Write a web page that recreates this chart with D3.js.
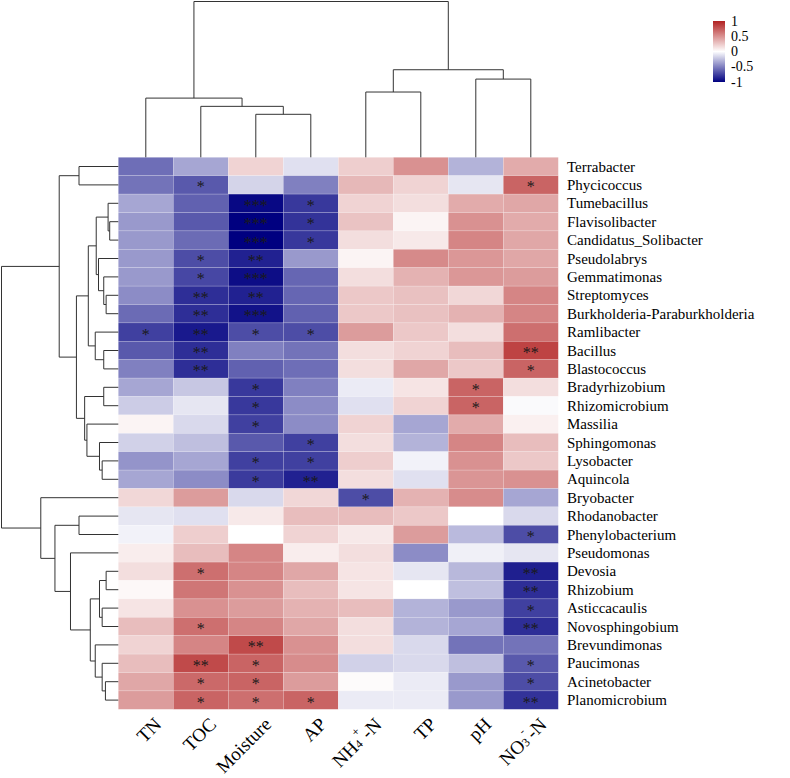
<!DOCTYPE html>
<html>
<head>
<meta charset="utf-8">
<script src="https://cdn.jsdelivr.net/npm/d3@7.9.0/dist/d3.min.js"></script>
<style>
  body { margin: 0; background: #fff; }
  svg text { font-family: "Liberation Serif", "Times New Roman", serif; fill: #000; }
</style>
</head>
<body>
<div id="chart"></div>
<script>
const genera = ["Terrabacter", "Phycicoccus", "Tumebacillus", "Flavisolibacter", "Candidatus_Solibacter",
  "Pseudolabrys", "Gemmatimonas", "Streptomyces", "Burkholderia-Paraburkholderia", "Ramlibacter",
  "Bacillus", "Blastococcus", "Bradyrhizobium", "Rhizomicrobium", "Massilia", "Sphingomonas",
  "Lysobacter", "Aquincola", "Bryobacter", "Rhodanobacter", "Phenylobacterium", "Pseudomonas",
  "Devosia", "Rhizobium", "Asticcacaulis", "Novosphingobium", "Brevundimonas", "Paucimonas",
  "Acinetobacter", "Planomicrobium"];

const factors = ["TN", "TOC", "Moisture", "AP", "NH4+-N", "TP", "pH", "NO3--N"];

// correlation, one row per genus, columns in factor order
const corr = [
  [-0.57, -0.35, 0.20, -0.12, 0.22, 0.50, -0.30, 0.38],
  [-0.55, -0.65, -0.17, -0.50, 0.32, 0.20, -0.10, 0.70],
  [-0.35, -0.62, -0.97, -0.78, 0.20, 0.15, 0.38, 0.40],
  [-0.40, -0.65, -1.00, -0.80, 0.27, 0.05, 0.50, 0.38],
  [-0.40, -0.58, -1.00, -0.78, 0.15, 0.10, 0.55, 0.40],
  [-0.40, -0.70, -0.87, -0.40, 0.05, 0.53, 0.47, 0.40],
  [-0.40, -0.72, -0.95, -0.60, 0.15, 0.35, 0.47, 0.45],
  [-0.45, -0.82, -0.87, -0.60, 0.25, 0.28, 0.18, 0.55],
  [-0.58, -0.82, -0.93, -0.62, 0.25, 0.28, 0.35, 0.55],
  [-0.75, -0.90, -0.70, -0.70, 0.45, 0.25, 0.15, 0.65],
  [-0.65, -0.82, -0.50, -0.55, 0.15, 0.20, 0.30, 0.85],
  [-0.50, -0.82, -0.62, -0.57, 0.15, 0.40, 0.25, 0.70],
  [-0.35, -0.22, -0.78, -0.50, -0.08, 0.12, 0.70, 0.15],
  [-0.20, -0.10, -0.78, -0.45, -0.12, 0.20, 0.70, -0.02],
  [0.05, -0.15, -0.75, -0.45, 0.20, -0.35, 0.38, 0.07],
  [-0.18, -0.25, -0.65, -0.75, 0.15, -0.30, 0.55, 0.30],
  [-0.42, -0.35, -0.75, -0.75, 0.22, -0.05, 0.50, 0.25],
  [-0.35, -0.45, -0.77, -0.87, 0.15, -0.12, 0.48, 0.50],
  [0.18, 0.45, -0.15, 0.18, -0.70, 0.35, 0.52, -0.35],
  [-0.10, -0.12, 0.10, 0.30, 0.30, 0.25, 0.00, -0.15],
  [-0.05, 0.22, 0.00, 0.20, 0.10, 0.45, -0.27, -0.70],
  [0.08, 0.30, 0.55, 0.08, 0.15, -0.45, -0.06, -0.10],
  [0.15, 0.65, 0.55, 0.40, 0.12, -0.10, -0.28, -0.88],
  [0.03, 0.62, 0.50, 0.30, 0.12, 0.00, -0.25, -0.82],
  [0.12, 0.50, 0.45, 0.35, 0.30, -0.30, -0.40, -0.75],
  [0.30, 0.65, 0.55, 0.40, 0.15, -0.30, -0.35, -0.82],
  [0.20, 0.55, 0.82, 0.50, 0.15, -0.15, -0.55, -0.55],
  [0.30, 0.82, 0.70, 0.52, -0.18, -0.15, -0.25, -0.65],
  [0.40, 0.68, 0.70, 0.45, 0.02, -0.08, -0.40, -0.70],
  [0.45, 0.70, 0.65, 0.70, -0.08, -0.08, -0.40, -0.80]
];

const stars = [
  ["", "", "", "", "", "", "", ""],
  ["", "*", "", "", "", "", "", "*"],
  ["", "", "***", "*", "", "", "", ""],
  ["", "", "***", "*", "", "", "", ""],
  ["", "", "***", "*", "", "", "", ""],
  ["", "*", "**", "", "", "", "", ""],
  ["", "*", "***", "", "", "", "", ""],
  ["", "**", "**", "", "", "", "", ""],
  ["", "**", "***", "", "", "", "", ""],
  ["*", "**", "*", "*", "", "", "", ""],
  ["", "**", "", "", "", "", "", "**"],
  ["", "**", "", "", "", "", "", "*"],
  ["", "", "*", "", "", "", "*", ""],
  ["", "", "*", "", "", "", "*", ""],
  ["", "", "*", "", "", "", "", ""],
  ["", "", "", "*", "", "", "", ""],
  ["", "", "*", "*", "", "", "", ""],
  ["", "", "*", "**", "", "", "", ""],
  ["", "", "", "", "*", "", "", ""],
  ["", "", "", "", "", "", "", ""],
  ["", "", "", "", "", "", "", "*"],
  ["", "", "", "", "", "", "", ""],
  ["", "*", "", "", "", "", "", "**"],
  ["", "", "", "", "", "", "", "**"],
  ["", "", "", "", "", "", "", "*"],
  ["", "*", "", "", "", "", "", "**"],
  ["", "", "**", "", "", "", "", ""],
  ["", "**", "*", "", "", "", "", "*"],
  ["", "*", "*", "", "", "", "", "*"],
  ["", "*", "*", "*", "", "", "", "**"]
];

// dendrograms as [height, left, right], leaves are indices
const colTree = [1.0, [0.38, 0, [0.327, 1, [0.276, 2, 3]]], [0.562, [0.419, 4, 5], [0.502, 6, 7]]];
const rowTree = [118,
  [59.7,
    [39.7, 0, 1],
    [42.3,
      [30.3,
        [22.3, [10.3, 2, [8.7, 3, 4]], [20, 5, [14.7, 6, [12.3, 7, 8]]]],
        [23.3, 9, [14.7, 10, 11]]],
      [34, [14.7, 12, 13], [31.7, 14, [19, 15, [16.3, 16, 17]]]]]],
  [78.3, 18,
    [64, [39.7, 19, 20],
      [48.3, 21,
        [28.3, [19, [12.3, 22, 23], [16.3, 24, 25]], [23.3, 26, [16.3, 27, [13, 28, 29]]]]]]]];

const legendTicks = [1, 0.5, 0, -0.5, -1];

const width = 790, height = 778;
const svg = d3.select('#chart').append('svg')
  .attr('width', width).attr('height', height)
  .attr('font-family', '"Liberation Serif", "Times New Roman", serif');

const x = d3.scaleBand().domain(d3.range(factors.length)).range([118.3, 558.3]);
const y = d3.scaleBand().domain(d3.range(genera.length)).range([157.3, 709.3]);
const color = d3.scaleLinear().domain([-1, 0, 1]).range(['#000080', '#ffffff', '#b22222']);

// cells
const cells = [];
corr.forEach((row, i) => row.forEach((v, j) => cells.push({ i, j, v, s: stars[i][j] })));

svg.append('g').selectAll('rect').data(cells).join('rect')
  .attr('x', d => x(d.j)).attr('y', d => y(d.i))
  .attr('width', x.bandwidth()).attr('height', y.bandwidth())
  .attr('fill', d => color(d.v))
  .attr('stroke', 'rgba(255,255,255,0.35)').attr('stroke-width', 0.5);

svg.append('g').selectAll('text').data(cells.filter(d => d.s)).join('text')
  .attr('x', d => x(d.j) + x.bandwidth() / 2)
  .attr('y', d => y(d.i) + y.bandwidth() / 2 + 7.5)
  .attr('text-anchor', 'middle')
  .style('font-size', '16px').style('fill', '#1a1a1a')
  .text(d => d.s);

// dendrograms
function toHier(tree) {
  return d3.hierarchy(tree, d => (typeof d === 'number' ? null : [d[1], d[2]]));
}
function layout(root, leafPos) {
  root.eachAfter(n => {
    if (!n.children) { n.pos = leafPos(n.data); n.h = 0; }
    else { n.pos = d3.mean(n.children, c => c.pos); n.h = n.data[0]; }
  });
  return root;
}

const colRoot = layout(toHier(colTree), k => x(k) + x.bandwidth() / 2);
const colH = d3.scaleLinear().domain([0, 1]).range([157.3, 1.5]);
svg.append('g').selectAll('path').data(colRoot.descendants().filter(n => n.children)).join('path')
  .attr('fill', 'none').attr('stroke', '#333').attr('stroke-width', 1)
  .attr('d', n => {
    const [a, b] = n.children;
    return `M${a.pos},${colH(a.h)}V${colH(n.h)}H${b.pos}V${colH(b.h)}`;
  });

const rowRoot = layout(toHier(rowTree), k => y(k) + y.bandwidth() / 2);
const rowH = d3.scaleLinear().domain([0, 118]).range([118.3, 1.5]);
svg.append('g').selectAll('path').data(rowRoot.descendants().filter(n => n.children)).join('path')
  .attr('fill', 'none').attr('stroke', '#333').attr('stroke-width', 1)
  .attr('d', n => {
    const [a, b] = n.children;
    return `M${rowH(a.h)},${a.pos}H${rowH(n.h)}V${b.pos}H${rowH(b.h)}`;
  });

// row labels
svg.append('g').selectAll('text').data(genera).join('text')
  .attr('x', 567).attr('y', (d, i) => y(i) + y.bandwidth() / 2)
  .attr('dominant-baseline', 'central')
  .style('font-size', '15px')
  .text(d => d);

// column labels
const colLabels = svg.append('g').selectAll('text').data(factors).join('text')
  .attr('transform', (d, j) => `translate(${x(j) + x.bandwidth() / 2 + 7},${716}) rotate(-45)`)
  .attr('text-anchor', 'end')
  .attr('dominant-baseline', 'hanging')
  .style('font-size', '19px');

colLabels.each(function (d) {
  const t = d3.select(this);
  if (d === 'NH4+-N') {
    t.append('tspan').text('NH');
    t.append('tspan').text('4').style('font-size', '12px').attr('dy', 5);
    t.append('tspan').text('+').style('font-size', '12px').attr('dy', -11);
    t.append('tspan').text('-N').attr('dy', 6);
  } else if (d === 'NO3--N') {
    t.append('tspan').text('NO');
    t.append('tspan').text('3').style('font-size', '12px').attr('dy', 5);
    t.append('tspan').text('-').style('font-size', '12px').attr('dy', -11);
    t.append('tspan').text('-N').attr('dy', 6);
  } else {
    t.text(d);
  }
});

// legend
const legY = d3.scaleLinear().domain([-1, 1]).range([82, 21]);
const grad = svg.append('defs').append('linearGradient')
  .attr('id', 'leg').attr('x1', 0).attr('y1', 1).attr('x2', 0).attr('y2', 0);
d3.range(-1, 1.01, 0.25).forEach(v => {
  grad.append('stop').attr('offset', `${(v + 1) / 2 * 100}%`).attr('stop-color', color(v));
});
svg.append('rect')
  .attr('x', 713).attr('y', legY(1)).attr('width', 12).attr('height', legY(-1) - legY(1))
  .attr('fill', 'url(#leg)');
svg.append('g').selectAll('text').data(legendTicks).join('text')
  .attr('x', 731).attr('y', d => legY(d))
  .attr('dominant-baseline', 'central')
  .style('font-size', '14px')
  .text(d => String(d));
</script>
</body>
</html>
